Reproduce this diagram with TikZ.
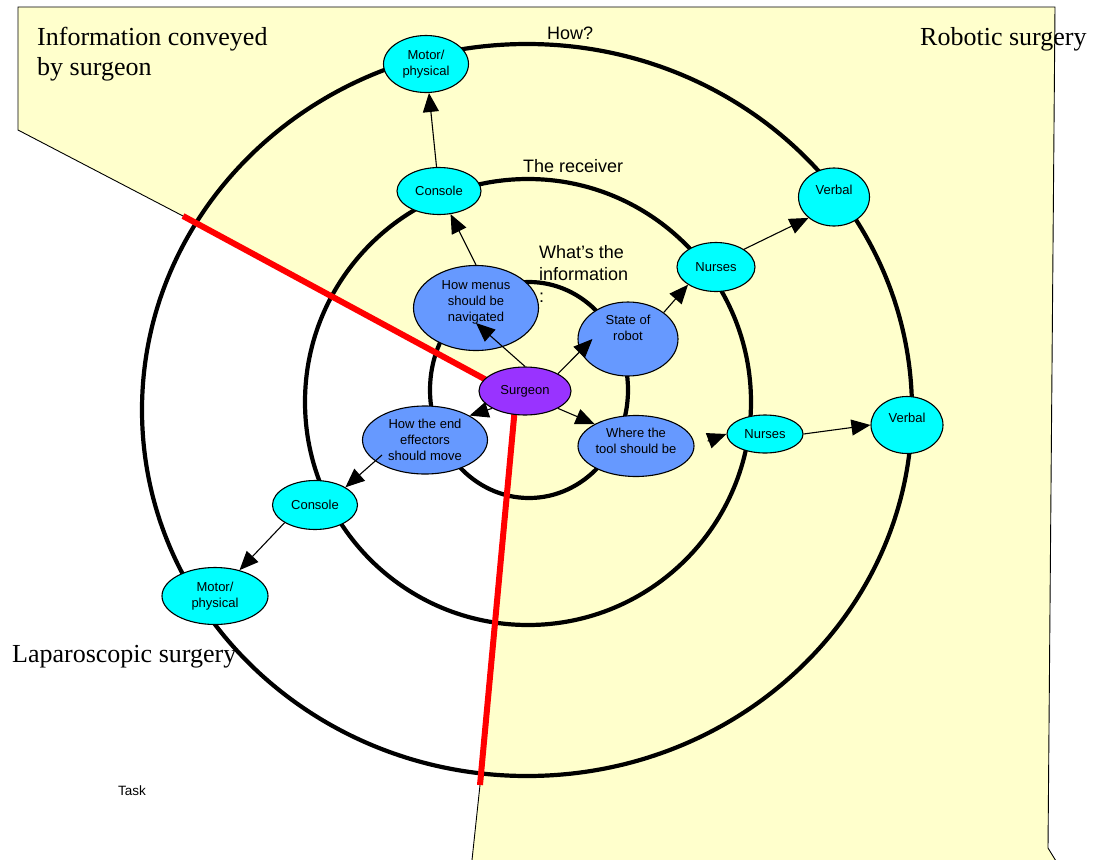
\documentclass[tikz,border=0pt]{standalone}
\usepackage{fontspec}
\setmainfont{Liberation Sans}
\newfontfamily\serifface{Liberation Serif}
\usetikzlibrary{arrows.meta}
\usetikzlibrary{shapes.geometric}

\definecolor{paper}{HTML}{FFFFCC}
\definecolor{recvcol}{HTML}{00FFFF}
\definecolor{infocol}{HTML}{6699FF}
\definecolor{srccol}{HTML}{9933FF}

\begin{document}
\begin{tikzpicture}[x=1pt,y=-1pt,
  ring/.style={line width=4.2pt},
  cut/.style={line width=6pt,color=red},
  edge/.style={line width=0.9pt},
  arr/.style={line width=1.1pt,-{Triangle[length=19pt,width=16pt]}},
  bubble/.style={ellipse,draw,line width=1.1pt,inner sep=0pt,align=center,font=\fontsize{13}{16}\selectfont},
  recv/.style={bubble,fill=recvcol},
  info/.style={bubble,fill=infocol},
  lift/.style={text depth=#1},
  big/.style={font=\serifface\fontsize{26}{30}\selectfont,inner sep=0pt,anchor=base west,align=left},
  small/.style={font=\fontsize{18}{22}\selectfont,inner sep=0pt,anchor=base west,align=left}]

\useasboundingbox (0,0) rectangle (1096,860);

\fill[paper] (18,7) -- (1055,7) -- (1048,848) -- (1055,860) -- (472,860) -- (480,785) -- (516,396) -- (183,216) -- (18,130) -- cycle;
\draw[edge] (1056,861) -- (1048,848) -- (1055,7) -- (18,7) -- (18,130) -- (183,216);
\draw[edge] (480,785) -- (472,860);

\draw[ring] (529,390) ellipse [x radius=99,y radius=108];
\draw[ring] (528,402) ellipse [x radius=223,y radius=223];
\draw[ring] (527,410) ellipse [x radius=385,y radius=366];

\coordinate (cut top) at (183,216);
\coordinate (apex) at (516,396);
\coordinate (cut low) at (480,785);
\draw[cut] (cut top) -- (apex) -- (cut low);

\node[bubble,fill=srccol,minimum width=92pt,minimum height=48pt] (surgeon) at (525,391) {Surgeon};
\node[info,lift=13pt,minimum width=125pt,minimum height=85pt] (menus) at (476,308) {How menus\\should be\\navigated};
\node[info,lift=22pt,minimum width=100pt,minimum height=74pt] (state) at (628,339) {State of\\robot};
\node[info,lift=11pt,minimum width=116pt,minimum height=61pt] (where) at (636,446) {Where the\\tool should be};
\node[info,minimum width=125pt,minimum height=68pt] (effectors) at (425,440) {How the end\\effectors\\should move};

\node[recv,minimum width=84pt,minimum height=47pt] (console top) at (439,191) {Console};
\node[recv,minimum width=85pt,minimum height=57pt] (motor top) at (426,64) {Motor/\\physical};
\node[recv,minimum width=78pt,minimum height=49pt] (nurses top) at (716,267) {Nurses};
\node[recv,lift=14pt,minimum width=71pt,minimum height=58pt] (verbal top) at (834,197) {Verbal};
\node[recv,minimum width=85pt,minimum height=49pt] (console low) at (315,505) {Console};
\node[recv,minimum width=106pt,minimum height=57pt] (motor low) at (215,596) {Motor/\\physical};
\node[recv,minimum width=76pt,minimum height=38pt] (nurses low) at (765,434) {Nurses};
\node[recv,lift=15pt,minimum width=72pt,minimum height=57pt] (verbal low) at (907,425) {Verbal};

\draw[arr] (surgeon.north) -- ([yshift=28pt]menus.south);
\draw[arr] (surgeon.north east) -- ([xshift=15pt]state.west);
\draw[arr] (surgeon.south east) -- (where.north west);
\draw[arr] (surgeon.south west) -- (effectors.north east);
\draw[arr] (menus.north) -- (console top);
\draw[arr] (console top) -- (motor top);
\draw[arr] (state.north east) -- (nurses top.south west);
\draw[arr] (nurses top.north east) -- (verbal top.south west);
\draw[arr] ([xshift=-43pt,yshift=-15pt]effectors.center) -- (console low.north east);
\draw[arr] (console low.south west) -- (motor low);
\draw[arr,shorten <=14pt] (where.east) -- (nurses low.west);
\draw[arr] (nurses low.east) -- (verbal low.west);

\node[big] (sender) at (37,75) {Information conveyed\\by surgeon};
\node[big] (robotic) at (920,45) {Robotic surgery};
\node[big] (laparo) at (12,662) {Laparoscopic surgery};
\node[small] (how) at (547,39) {How?};
\node[small] (receiver) at (523,172) {The receiver};
\node[small] (what) at (539,302) {What’s the\\information\\:};
\node[font=\fontsize{13.5}{16}\selectfont,inner sep=0pt,anchor=base west] (task) at (118,795) {Task};
\end{tikzpicture}
\end{document}
